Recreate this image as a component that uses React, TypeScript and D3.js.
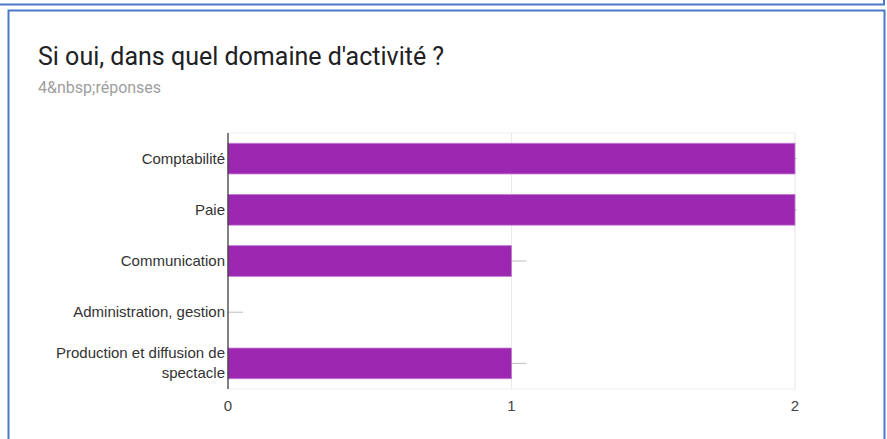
import React from "react";
import * as d3 from "d3";

const title = "Si oui, dans quel domaine d'activité ?";
const subtitle = "4&nbsp;réponses";
const categories = [
  "Comptabilité",
  "Paie",
  "Communication",
  "Administration, gestion",
  "Production et diffusion de spectacle",
];
const values = [2, 2, 1, 0, 1];
const tickValues = [0, 1, 2];

const W = 887;
const H = 439;
const plot = { left: 228, right: 795, top: 133, bottom: 389 };

function wrap(text: string, maxChars: number): string[] {
  const words = text.split(" ");
  const lines: string[] = [];
  let cur = "";
  for (const w of words) {
    const next = cur ? cur + " " + w : w;
    if (next.length > maxChars && cur) {
      lines.push(cur);
      cur = w;
    } else cur = next;
  }
  if (cur) lines.push(cur);
  return lines;
}

export default function App() {
  const x = d3.scaleLinear().domain([0, 2]).range([plot.left, plot.right]);
  const y = d3
    .scaleBand<string>()
    .domain(categories)
    .range([plot.top, plot.bottom])
    .paddingInner(0.4)
    .paddingOuter(0.2);
  const bh = y.bandwidth();
  const labelFont = "Arial, 'Liberation Sans', sans-serif";

  return (
    <svg
      width={W}
      height={H}
      style={{ position: "absolute", left: 0, top: 0, background: "#fff" }}
    >
      <defs>
        <clipPath id="plotclip">
          <rect x={plot.left} y={plot.top} width={plot.right - plot.left + 2} height={plot.bottom - plot.top} />
        </clipPath>
      </defs>
      {/* previous card bottom/right border */}
      <line x1={0} x2={885} y1={4.5} y2={4.5} stroke="#4a78c9" strokeWidth={2} />
      <line x1={884} x2={884} y1={0} y2={5} stroke="#4a78c9" strokeWidth={2} />
      {/* main card border */}
      <path d={`M8.5,${H + 2} V10.5 H884.5 V${H + 2}`} fill="none" stroke="#4a78c9" strokeWidth={2} />
      <text x={38} y={65} fontFamily="Roboto, sans-serif" fontSize={25} fill="#202124">
        {title}
      </text>
      <text x={38} y={92.5} fontFamily="Roboto, sans-serif" fontSize={16} fill="#9e9e9e">
        {subtitle}
      </text>

      {/* plot frame and grid */}
      <rect
        x={plot.left}
        y={plot.top}
        width={plot.right - plot.left}
        height={plot.bottom - plot.top}
        fill="none"
        stroke="#efefef"
        strokeWidth={1}
      />
      {tickValues.slice(1).map((t) => (
        <line key={t} x1={x(t)} x2={x(t)} y1={plot.top} y2={plot.bottom} stroke="#ebebeb" strokeWidth={1} />
      ))}

      {/* stems */}
      <g clipPath="url(#plotclip)">
        {categories.map((c, i) => {
          const yc = (y(c) as number) + bh / 2;
          return (
            <line
              key={"s" + c}
              x1={x(values[i])}
              x2={x(values[i]) + 15}
              y1={yc}
              y2={yc}
              stroke="#bdbdbd"
              strokeWidth={1}
            />
          );
        })}
      </g>
      {categories.map((c, i) =>
        values[i] > 0 ? (
          <rect
            key={c}
            x={x(0)}
            y={y(c) as number}
            width={x(values[i]) - x(0)}
            height={bh}
            fill="#9c27b0"
            stroke="#c47ad2"
            strokeWidth={0.8}
          />
        ) : null
      )}

      {/* axis line */}
      <line x1={plot.left} x2={plot.left} y1={plot.top} y2={plot.bottom} stroke="#333" strokeWidth={1.2} />

      {/* category labels */}
      {categories.map((c) => {
        const lines = wrap(c, 27);
        const yc = (y(c) as number) + bh / 2;
        const lh = 20;
        const y0 = yc - ((lines.length - 1) * lh) / 2 + 5;
        return (
          <text key={"l" + c} textAnchor="end" fontFamily={labelFont} fontSize={15} fill="#333">
            {lines.map((ln, k) => (
              <tspan key={k} x={225} y={y0 + k * lh}>
                {ln}
              </tspan>
            ))}
          </text>
        );
      })}

      {/* x tick labels */}
      {tickValues.map((t) => (
        <text key={"t" + t} x={x(t)} y={411} textAnchor="middle" fontFamily={labelFont} fontSize={15} fill="#444">
          {t}
        </text>
      ))}
    </svg>
  );
}
